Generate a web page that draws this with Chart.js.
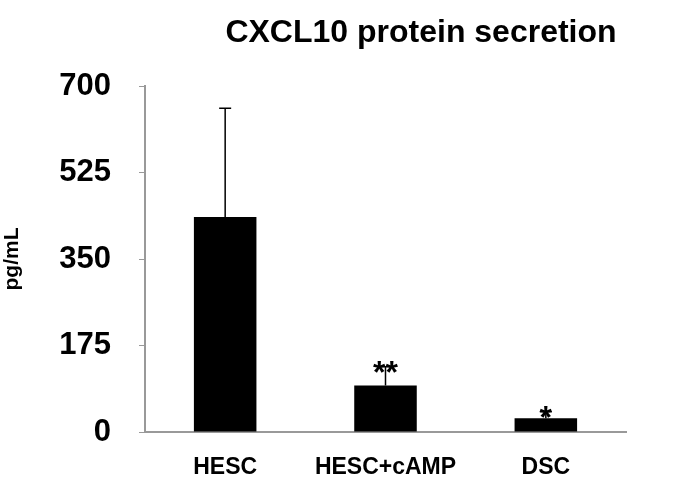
<!DOCTYPE html>
<html>
<head>
<meta charset="utf-8">
<script src="https://cdn.jsdelivr.net/npm/chart.js@4"></script>
<style>
  body { margin: 0; background: #fff; }
  #wrap { width: 684px; height: 490px; }
</style>
</head>
<body>
<div id="wrap"><canvas id="grafico"></canvas></div>
<script>
const categorias = ['HESC', 'HESC+cAMP', 'DSC'];
const valores = [435, 94, 28];
const erros = [220, 38, 13];
const marcas = ['', '**', '*'];
const ticksY = [0, 175, 350, 525, 700];

// Barras de erro e asteriscos
const extras = {
  id: 'extras',
  afterDatasetsDraw(chart) {
    const ctx = chart.ctx;
    const y = chart.scales.y;
    const meta = chart.getDatasetMeta(0);
    ctx.save();
    meta.data.forEach((bar, i) => {
      const topo = y.getPixelForValue(valores[i] + erros[i]);
      ctx.strokeStyle = '#000';
      ctx.lineWidth = 1.5;
      ctx.beginPath();
      ctx.moveTo(bar.x, bar.y);
      ctx.lineTo(bar.x, topo);
      ctx.moveTo(bar.x - 6, topo);
      ctx.lineTo(bar.x + 6, topo);
      ctx.stroke();
      if (marcas[i]) {
        ctx.fillStyle = '#000';
        ctx.font = 'bold 32px Liberation Sans, Arial';
        ctx.textAlign = 'center';
        ctx.textBaseline = 'alphabetic';
        ctx.fillText(marcas[i], bar.x, topo + 16);
      }
    });
    ctx.font = 'bold 32px Liberation Sans, Arial';
    ctx.fillStyle = '#000';
    ctx.textAlign = 'center';
    ctx.fillText('CXCL10 protein secretion', 421, 42);
    ctx.restore();
  }
};

new Chart(document.getElementById('grafico'), {
  type: 'bar',
  data: {
    labels: categorias,
    datasets: [{
      data: valores,
      backgroundColor: '#000',
      categoryPercentage: 0.39,
      barPercentage: 1
    }]
  },
  options: {
    responsive: true,
    maintainAspectRatio: false,
    animation: false,
    layout: { padding: { top: 86, right: 58, left: 0, bottom: 0 } },
    plugins: { legend: { display: false }, tooltip: { enabled: false } },
    scales: {
      x: {
        grid: { display: false, drawOnChartArea: false, tickLength: 6, color: '#999' },
        border: { color: '#999', width: 2 },
        ticks: { color: '#000', padding: 16, font: { family: 'Liberation Sans', size: 23, weight: 'bold' } },
        afterFit(s) { s.height = 58; }
      },
      y: {
        min: 0, max: 700,
        afterBuildTicks(s) { s.ticks = ticksY.map(v => ({ value: v })); },
        grid: { drawOnChartArea: false, tickLength: 6, color: '#999' },
        border: { color: '#999', width: 2 },
        ticks: { color: '#000', padding: 28, font: { family: 'Liberation Sans', size: 31, weight: 'bold' } },
        title: { display: true, text: 'pg/mL', color: '#000', padding: 0, font: { family: 'Liberation Sans', size: 21, weight: 'bold' } },
        afterFit(s) { s.width = 145; }
      }
    }
  },
  plugins: [extras]
});
</script>
</body>
</html>
